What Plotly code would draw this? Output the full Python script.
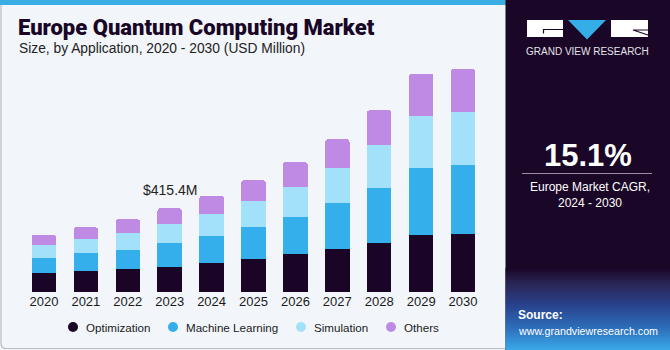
import plotly.graph_objects as go

# ---------------- data ----------------
years = [str(y) for y in range(2020, 2031)]
optimization = [92.8, 104.2, 114.1, 124.1, 142.4, 163.8, 187.1, 213.4, 244.7, 284.4, 289.3]
machine_learning = [77.4, 87.8, 94.3, 119.1, 137.0, 157.3, 185.1, 226.8, 273.0, 332.5, 339.5]
simulation = [63.0, 71.0, 85.9, 95.8, 109.2, 129.0, 150.4, 176.7, 211.9, 258.1, 264.5]
others = [51.1, 58.1, 66.5, 76.4, 87.8, 104.2, 122.6, 141.0, 172.2, 208.4, 211.9]
series_names = ["Optimization", "Machine Learning", "Simulation", "Others"]
series_colors = ["#1a0527", "#34afec", "#a3e1fa", "#bf8ae3"]
highlight_year = "2023"

title_text = "Europe Quantum Computing Market"
subtitle_text = "Size, by Application, 2020 - 2030 (USD Million)"
cagr_text = "15.1%"
cagr_label = "Europe Market CAGR,<br>2024 - 2030"

# ---------------- layout geometry (pixels) ----------------
W, H = 670, 350
PL, PR, PT, PB = 23, 484, 60, 292   # plot area
PW, PH = PR - PL, PB - PT
legend_marker_x = [73, 173, 301, 391]   # legend layout (pixels)
legend_y = 327


def px(x):
    return (x - PL) / PW


def py(y):
    return (PB - y) / PH


FONT = "Liberation Sans"
DARK = "#1a0626"

fig = go.Figure()
for name, vals, col in zip(series_names, [optimization, machine_learning, simulation, others], series_colors):
    fig.add_trace(go.Bar(x=years, y=vals, name=name, marker=dict(color=col, line=dict(width=0)),
                         showlegend=False))

idx = years.index(highlight_year)
total = optimization[idx] + machine_learning[idx] + simulation[idx] + others[idx]

shapes = []
# top stripe
shapes.append(dict(type="rect", xref="paper", yref="paper", x0=px(0), x1=px(506), y0=py(0), y1=py(5),
                   fillcolor="#3aaee2", line=dict(width=0), layer="below"))
# left panel border
shapes.append(dict(type="path", xref="paper", yref="paper",
                   path=f"M {px(1)},{py(5)} L {px(1)},{py(343)} Q {px(1)},{py(348.5)} {px(6)},{py(348.5)} L {px(506)},{py(348.5)}",
                   line=dict(color="#b9bcc2", width=1.2), layer="below"))
# right dark panel
shapes.append(dict(type="rect", xref="paper", yref="paper", x0=px(505.5), x1=px(670), y0=py(0), y1=py(350),
                   fillcolor=DARK, line=dict(width=0), layer="below"))
# gradient at bottom of right panel
stops = [(268, (26, 6, 38)), (284, (44, 38, 88)), (305, (40, 66, 140)), (328, (46, 110, 186)), (350, (58, 170, 232))]
n = 41
for i in range(n):
    y0 = 268 + (350 - 268) * i / n
    y1 = 268 + (350 - 268) * (i + 1) / n
    ym = (y0 + y1) / 2
    for (a, ca), (b, cb) in zip(stops[:-1], stops[1:]):
        if a <= ym <= b:
            t = (ym - a) / (b - a)
            c = tuple(int(ca[k] + (cb[k] - ca[k]) * t) for k in range(3))
            break
    shapes.append(dict(type="rect", xref="paper", yref="paper", x0=px(505.5), x1=px(670), y0=py(y0), y1=py(y1 + 0.3),
                       fillcolor=f"rgb{c}", line=dict(width=0), layer="below"))
# logo
shapes.append(dict(type="rect", xref="paper", yref="paper", x0=px(527), x1=px(563), y0=py(20), y1=py(37),
                   fillcolor="white", line=dict(width=0)))
shapes.append(dict(type="path", xref="paper", yref="paper",
                   path=f"M {px(568)},{py(20)} L {px(606)},{py(20)} L {px(587)},{py(39.5)} Z",
                   fillcolor="#35aee8", line=dict(width=0)))
shapes.append(dict(type="rect", xref="paper", yref="paper", x0=px(611), x1=px(648), y0=py(20), y1=py(37),
                   fillcolor="white", line=dict(width=0)))
shapes.append(dict(type="path", xref="paper", yref="paper",
                   path=f"M {px(563)},{py(29.5)} L {px(543.5)},{py(29.5)} L {px(543.5)},{py(33.5)}",
                   line=dict(color=DARK, width=1.2)))
shapes.append(dict(type="path", xref="paper", yref="paper",
                   path=f"M {px(648)},{py(35)} L {px(633)},{py(30)} L {px(648)},{py(30)}",
                   line=dict(color=DARK, width=1.2)))
# divider
shapes.append(dict(type="line", xref="paper", yref="paper", x0=px(522), x1=px(652), y0=py(173.5), y1=py(173.5),
                   line=dict(color="#9a8fa6", width=1)))
# legend markers
for mx, col in zip(legend_marker_x, series_colors):
    shapes.append(dict(type="circle", xref="paper", yref="paper", xsizemode="pixel", ysizemode="pixel",
                       xanchor=px(mx), yanchor=py(legend_y), x0=-5, x1=5, y0=-5, y1=5,
                       fillcolor=col, line=dict(width=0)))


def note(text, x, y, size, color, xanchor="center", weight="normal", family=FONT, align="center"):
    return dict(text=text, x=px(x), y=py(y), xref="paper", yref="paper", xanchor=xanchor, yanchor="middle",
                align=align, showarrow=False, font=dict(family=family, size=size, color=color, weight=weight))


annotations = [
    note(title_text, 16, 27, 22, DARK, xanchor="left", weight=900, family="Roboto"),
    note(subtitle_text, 17, 48, 13.8, "#222222", xanchor="left"),
    dict(text=f"${total:.1f}M", x=idx, y=total, xref="x", yref="y", yshift=18, showarrow=False,
         xanchor="center", yanchor="middle", font=dict(family=FONT, size=14, color="#222222")),
    note("GRAND VIEW RESEARCH", 587.5, 51, 10, "#e4e2ea"),
    note(f"<b>{cagr_text}</b>", 587.5, 155, 31, "white"),
    note(cagr_label, 590, 195, 12, "white"),
    note("<b>Source:</b>", 516, 315, 12, "white", xanchor="left", align="left"),
    note("www.grandviewresearch.com", 516, 330.5, 10.7, "white", xanchor="left", align="left"),
]
for mx, name in zip(legend_marker_x, series_names):
    annotations.append(note(name, mx + 10.5, legend_y, 11.6, "#1a1a1a", xanchor="left"))

fig.update_layout(
    width=W, height=H, barmode="stack", bargap=0.415, barcornerradius=3,
    margin=dict(l=PL, r=W - PR, t=PT, b=H - PB, pad=0),
    paper_bgcolor="#f2f6fa", plot_bgcolor="rgba(0,0,0,0)",
    font=dict(family=FONT, color="#222222"),
    xaxis=dict(type="category", categoryorder="array", categoryarray=years, range=[-0.5, len(years) - 0.5],
               showgrid=False, zeroline=False, showline=False, ticks="",
               tickfont=dict(family=FONT, size=13, color="#1a1a1a")),
    yaxis=dict(visible=False, range=[0, PH * 4.963], fixedrange=True),
    shapes=shapes, annotations=annotations, showlegend=False,
)

fig.write_html("out.html")
